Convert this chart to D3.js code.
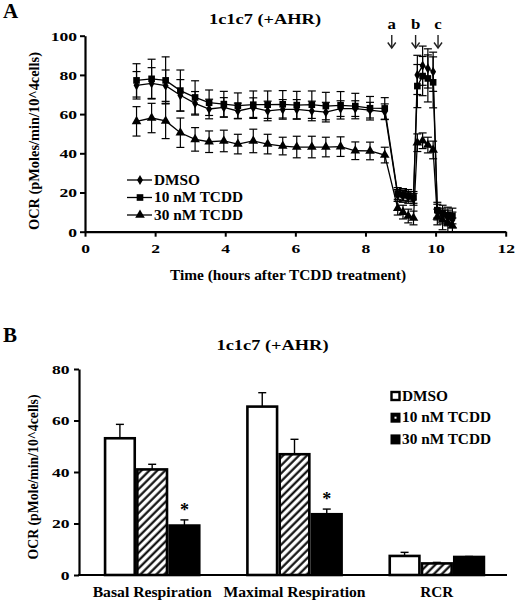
<!DOCTYPE html>
<html><head><meta charset="utf-8">
<script src="https://cdn.jsdelivr.net/npm/d3@7"></script>
<style>
body{margin:0;background:#fff}
svg text{font-family:"Liberation Serif",Tinos,"Times New Roman",Times,serif !important;font-weight:bold !important;fill:#000}
</style>
</head><body>
<svg id="c" width="516" height="602"></svg>
<script>
// ---------- Panel A data ----------
const times = [1.47,1.9,2.3,2.72,3.14,3.54,3.96,4.36,4.8,5.21,5.64,6.04,6.47,6.87,7.29,7.71,8.13,8.55,
               8.92,9.07,9.22,9.37, 9.48,9.63,9.78,9.93, 10.05,10.2,10.35,10.48];
const dmso      = [74.7,75.7,74.5,69.6,65.5,62.6,63.4,61.6,63.3,61.6,62.4,62.4,61.6,61.0,62.8,62.8,62.0,61.2,
                   18.5,18,17.5,16.5, 80,84.7,83.3,81.6, 10,8,7,6];
const dmsoErr   = [7,8,8,8,6,5,5,4,5,5,5,5,5,5,4,4,4,4, 3,3,3,3, 10,10,10,10, 4,4,4,4];
const tcdd10    = [77.2,78,77.2,72,68.5,65.8,65.1,64.3,64.8,64.8,65,64.6,64.8,64.1,64.5,64.1,63.0,62.9,
                   19.5,19,18.5,17.5, 74.3,79.4,78.2,76.2, 11,9.5,8.5,8];
const tcdd10Err = [8.5,10,12,10.5,8.5,6.5,6.5,6.5,7,7,7,7,7,7,7,6.5,6,5.5, 3,3,3,3, 11,10,12,13, 4,4,4,4];
const tcdd30    = [56.3,58,56.5,50.5,47.1,45.9,46.3,44.7,46.3,44.7,43.7,43.2,43.2,43.2,43.4,41.3,41.2,39.1,
                   12,10,8,7, 45.4,46.4,44.2,41.7, 7.5,6,4.5,3];
const tcdd30Err = [7.5,7.5,9,7.5,6,5.5,5.5,5,6,5,4.5,5.5,5.5,5,5,4.5,4.5,4, 3.5,3.5,3.5,3.5, 4.5,4,4,4.5, 4,5,5,4];
const seriesNames = ["DMSO","10 nM TCDD","30 nM TCDD"];
const injectionTimes = [8.75,9.43,10.07];
const injectionLabels = ["a","b","c"];
const xTicksA = [0,2,4,6,8,10,12];
const yTicksA = [0,20,40,60,80,100];

// ---------- Panel B data ----------
const categories = ["Basal Respiration","Maximal Respiration","RCR"];
const barDMSO    = [53.1,65.4,7.4];
const barDMSOErr = [5.4,5.4,1.4];
const bar10      = [41.0,46.9,4.5];
const bar10Err   = [2.0,5.8,0.4];
const bar30      = [19.2,23.6,7.0];
const bar30Err   = [2.2,2.0,0.2];
const bar30Signif = [true,true,false];
const yTicksB = [0,20,40,60,80];

const FONT = '"Liberation Serif", Tinos, "Times New Roman", Times, serif';
const svg = d3.select("#c");
function stretch(sel,k){ sel.each(function(){ const L=this.getComputedTextLength(); d3.select(this).attr("textLength",L*k).attr("lengthAdjust","spacingAndGlyphs"); }); return sel; }
function fit(sel,w){ return sel.attr("textLength",w).attr("lengthAdjust","spacingAndGlyphs"); }
function txt(parent){ return parent.append("text").style("font-family",FONT).style("font-weight","bold"); }

// ================= PANEL A =================
const xA = d3.scaleLinear().domain([0,12]).range([85,505.7]);
const yA = d3.scaleLinear().domain([0,100]).range([231.7,35.7]);

txt(svg).attr("x",3).attr("y",18).style("font-size","21px").text("A");
fit(txt(svg).attr("x",265).attr("y",23.5).attr("text-anchor","middle").style("font-size","15.5px").text("1c1c7 (+AHR)"),112);

const gyA = svg.append("g").attr("transform",`translate(${xA(0)},0)`)
  .call(d3.axisLeft(yA).tickValues(yTicksA).tickSize(5).tickSizeOuter(0).tickPadding(3));
const gxA = svg.append("g").attr("transform",`translate(0,${yA(0)})`)
  .call(d3.axisBottom(xA).tickValues(xTicksA).tickSize(5).tickSizeOuter(0).tickPadding(7));
[gyA,gxA].forEach(g=>{
  g.attr("font-family",FONT);
  g.select(".domain").attr("stroke","#000").attr("stroke-width",2.2);
  g.selectAll(".tick line").attr("stroke","#000").attr("stroke-width",2);
  g.selectAll("text").style("font-family",FONT).style("font-weight","bold").style("font-size","13.5px");
  stretch(g.selectAll("text"),1.3);
});

fit(txt(svg).attr("x",288).attr("y",280).attr("text-anchor","middle").style("font-size","14px")
  .text("Time (hours after TCDD treatment)"),236);
fit(txt(svg).attr("transform","translate(39,141) rotate(-90)").attr("text-anchor","middle").style("font-size","14px")
  .text("OCR (pMoles/min/10^4cells)"),178);

const seriesA = [
  {name:seriesNames[0],v:dmso,e:dmsoErr,sym:d3.symbolDiamond,size:30},
  {name:seriesNames[1],v:tcdd10,e:tcdd10Err,sym:d3.symbolSquare,size:44},
  {name:seriesNames[2],v:tcdd30,e:tcdd30Err,sym:d3.symbolTriangle,size:40}
];
const gA = svg.append("g");
seriesA.forEach(s=>{
  const pts = times.map((t,i)=>({t,v:s.v[i],e:s.e[i]}));
  const eb = gA.append("g").attr("stroke","#000").attr("stroke-width",1.2).attr("fill","none");
  pts.forEach(p=>{
    const x=xA(p.t), y1=yA(Math.max(0,p.v-p.e)), y2=yA(p.v+p.e);
    eb.append("line").attr("x1",x).attr("x2",x).attr("y1",y1).attr("y2",y2);
    eb.append("line").attr("x1",x-4).attr("x2",x+4).attr("y1",y1).attr("y2",y1);
    eb.append("line").attr("x1",x-4).attr("x2",x+4).attr("y1",y2).attr("y2",y2);
  });
});
seriesA.forEach(s=>{
  const pts = times.map((t,i)=>({t,v:s.v[i]}));
  gA.append("path").datum(pts).attr("fill","none").attr("stroke","#000").attr("stroke-width",1.3)
    .attr("d",d3.line().x(d=>xA(d.t)).y(d=>yA(d.v)));
  gA.append("g").selectAll("path").data(pts).join("path")
    .attr("transform",d=>`translate(${xA(d.t)},${yA(d.v)})`)
    .attr("d",d3.symbol(s.sym,s.size)).attr("fill","#000");
});

// injection arrows
injectionTimes.forEach((t,i)=>{
  const x = xA(t);
  stretch(txt(svg).attr("x",x).attr("y",28.5).attr("text-anchor","middle").style("font-size","14px").text(injectionLabels[i]),1.2);
  svg.append("line").attr("x1",x).attr("x2",x).attr("y1",35).attr("y2",48).attr("stroke","#222").attr("stroke-width",1.4);
  svg.append("path").attr("d",`M${x-4},42.5 L${x},48 L${x+4},42.5`).attr("fill","none").attr("stroke","#222").attr("stroke-width",1.4);
});

// legend A
const legW = [46,89,89];
seriesA.forEach((s,i)=>{
  const cy = 180 + i*17.5;
  svg.append("line").attr("x1",127).attr("x2",152).attr("y1",cy).attr("y2",cy).attr("stroke","#000").attr("stroke-width",1.3);
  svg.append("path").attr("transform",`translate(140,${cy})`).attr("d",d3.symbol(s.sym,s.size)).attr("fill","#000");
  fit(txt(svg).attr("x",154).attr("y",cy+4.7).style("font-size","14px").text(s.name),legW[i]);
});

// ================= PANEL B =================
const defs = svg.append("defs");
const pat = defs.append("pattern").attr("id","hatch").attr("patternUnits","userSpaceOnUse")
  .attr("width",5.6).attr("height",5.6).attr("patternTransform","rotate(45)");
pat.append("rect").attr("width",5.6).attr("height",5.6).attr("fill","#fff");
pat.append("line").attr("x1",1.5).attr("x2",1.5).attr("y1",0).attr("y2",5.6).attr("stroke","#000").attr("stroke-width",2.1);

const xB = d3.scaleBand().domain(categories).range([81,508]).paddingInner(0.32).paddingOuter(0.16);
const xS = d3.scaleBand().domain(seriesNames).range([0,xB.bandwidth()]);
const yB = d3.scaleLinear().domain([0,80]).range([575,369]);

txt(svg).attr("x",3).attr("y",341.5).style("font-size","21px").text("B");
fit(txt(svg).attr("x",272.5).attr("y",349.5).attr("text-anchor","middle").style("font-size","15.5px").text("1c1c7 (+AHR)"),112);

const gyB = svg.append("g").attr("transform",`translate(79,0)`)
  .call(d3.axisLeft(yB).tickValues(yTicksB).tickSize(5).tickSizeOuter(0).tickPadding(4.5));
gyB.attr("font-family",FONT);
gyB.select(".domain").attr("stroke","#000").attr("stroke-width",2.2);
gyB.selectAll(".tick line").attr("stroke","#000").attr("stroke-width",2);
gyB.selectAll("text").style("font-family",FONT).style("font-weight","bold").style("font-size","13.5px");
stretch(gyB.selectAll("text"),1.3);
svg.append("line").attr("x1",78).attr("x2",507).attr("y1",yB(0)).attr("y2",yB(0)).attr("stroke","#000").attr("stroke-width",2.2);

fit(txt(svg).attr("transform","translate(37.5,477) rotate(-90)").attr("text-anchor","middle").style("font-size","14px")
  .text("OCR (pMole/min/10^4cells)"),165);

const seriesB = [
  {name:seriesNames[0],v:barDMSO,e:barDMSOErr,fill:"#fff"},
  {name:seriesNames[1],v:bar10,e:bar10Err,fill:"url(#hatch)"},
  {name:seriesNames[2],v:bar30,e:bar30Err,fill:"#000"}
];
const gB = svg.append("g");
seriesB.forEach(s=>{
  categories.forEach((c,i)=>{
    const x0 = xB(c)+xS(s.name), w = xS.bandwidth();
    const cx = x0 + w/2;
    const yTop = yB(s.v[i]), yErr = yB(s.v[i]+s.e[i]);
    gB.append("line").attr("x1",cx).attr("x2",cx).attr("y1",yTop).attr("y2",yErr).attr("stroke","#000").attr("stroke-width",1.4);
    gB.append("line").attr("x1",cx-4).attr("x2",cx+4).attr("y1",yErr).attr("y2",yErr).attr("stroke","#000").attr("stroke-width",1.4);
    gB.append("rect").attr("x",x0+1.3).attr("y",yTop).attr("width",w-2.6).attr("height",yB(0)-yTop)
      .attr("fill",s.fill).attr("stroke","#000").attr("stroke-width",2.6);
  });
});
// significance marks
categories.forEach((c,i)=>{
  if(!bar30Signif[i]) return;
  const cx = xB(c)+xS(seriesNames[2])+xS.bandwidth()/2;
  txt(svg).attr("x",cx).attr("y",yB(bar30[i]+bar30Err[i])-4).attr("text-anchor","middle").style("font-size","18px").text("*");
});

// category labels
const catW = [119,142,33];
categories.forEach((c,i)=>{
  fit(txt(svg).attr("x",xB(c)+xB.bandwidth()/2).attr("y",596.5).attr("text-anchor","middle").style("font-size","14px").text(c),catW[i]);
});

// legend B
seriesB.forEach((s,i)=>{
  const cy = 396 + i*21.7;
  if(i===0){
    svg.append("rect").attr("x",391.5).attr("y",cy-4).attr("width",8).attr("height",8).attr("fill","#fff").attr("stroke","#000").attr("stroke-width",2.4);
  } else if(i===1){
    svg.append("rect").attr("x",390.5).attr("y",cy-5).attr("width",10).attr("height",10).attr("fill","#000");
    svg.append("rect").attr("x",394.5).attr("y",cy-1).attr("width",2).attr("height",2).attr("fill","#fff");
  } else {
    svg.append("rect").attr("x",390.5).attr("y",cy-5).attr("width",10).attr("height",10).attr("fill","#000");
  }
  fit(txt(svg).attr("x",402).attr("y",cy+4.7).style("font-size","14px").text(s.name),legW[i]);
});
</script>
</body></html>
